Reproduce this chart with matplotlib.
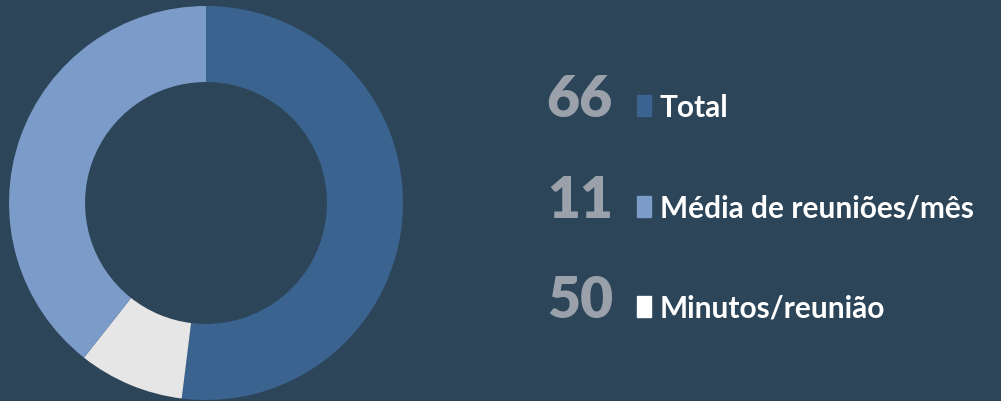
import matplotlib.pyplot as plt

# datos
valores = [66, 11, 50]
colores_pie = ['#3a6390', '#e6e6e6', '#7b9bc9']
numeros = ['66', '11', '50']
etiquetas = ['Total', 'Média de reuniões/mês', 'Minutos/reunião']
colores_leyenda = ['#3a6390', '#7b9bc9', '#ffffff']

fondo = '#2d4558'
W, H = 1001, 402

fig = plt.figure(figsize=(W / 100, H / 100), dpi=100, facecolor=fondo)

# donut
cx, cy, r = 206, 204, 197
ax = fig.add_axes([(cx - r) / W, (H - cy - r) / H, 2 * r / W, 2 * r / H])
ax.set_facecolor(fondo)
ax.pie(valores, colors=colores_pie, startangle=90, counterclock=False,
       radius=1, wedgeprops=dict(width=0.386, linewidth=0))
ax.set_xlim(-1, 1)
ax.set_ylim(-1, 1)
ax.set_aspect('equal')
ax.axis('off')

# leyenda con numeros
baselines = [117, 218, 318]
for num, lab, col, yb in zip(numeros, etiquetas, colores_leyenda, baselines):
    y = (H - yb) / H
    fig.text(613 / W, y, num, ha='right', va='baseline', color='#9aa1ab',
             fontsize=41, fontweight='heavy', family=['Lato', 'DejaVu Sans'])
    fig.patches.append(plt.Rectangle((637 / W, y), 14 / W, 21 / H,
                                     transform=fig.transFigure, color=col))
    fig.text(660 / W, y, lab, ha='left', va='baseline', color='white',
             fontsize=21.5, fontweight='bold', family=['Lato', 'DejaVu Sans'])

fig.savefig('out.png', dpi=100, facecolor=fondo)
